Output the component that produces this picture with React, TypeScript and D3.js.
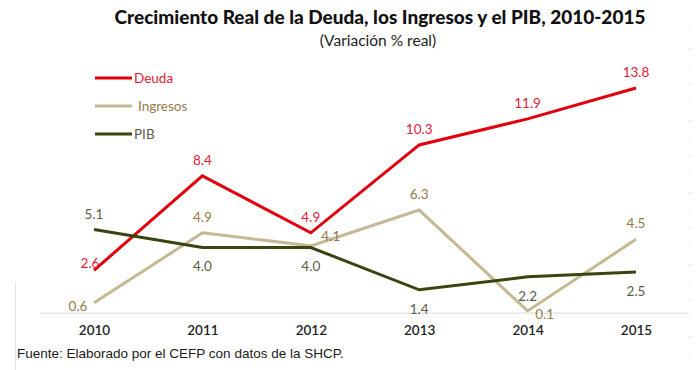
import React, { useRef, useEffect } from 'react';
import * as d3 from 'd3';

const years = ['2010', '2011', '2012', '2013', '2014', '2015'];
const deuda = [2.6, 8.4, 4.9, 10.3, 11.9, 13.8];
const ingresos = [0.6, 4.9, 4.1, 6.3, 0.1, 4.5];
const pib = [5.1, 4.0, 4.0, 1.4, 2.2, 2.5];

// where each value label sits relative to its point
const deudaLabelPos = ['left', 'above', 'above', 'above', 'above', 'above'];
const ingresosLabelPos = ['lowLeft', 'above', 'right', 'above', 'lowRight', 'above'];
const pibLabelPos = ['above', 'below', 'below', 'below', 'below', 'below'];

const App = () => {
  const svgRef = useRef<SVGSVGElement | null>(null);

  useEffect(() => {
    if (!svgRef.current) return;
    const svg = d3.select(svgRef.current);
    svg.selectAll('*').remove();

    const font = 'Lato, "Open Sans", sans-serif';

    const x = d3.scalePoint<string>().domain(years).range([94, 636]);
    const y = d3.scaleLinear().domain([0, 14]).range([312.6, 84.7]);

    // title
    svg.append('text')
      .attr('x', 380).attr('y', 24)
      .attr('text-anchor', 'middle')
      .style('font-family', font)
      .style('font-weight', 900)
      .style('font-size', '19px')
      .attr('fill', '#111')
      .text('Crecimiento Real de la Deuda, los Ingresos y el PIB, 2010-2015');

    svg.append('text')
      .attr('x', 378).attr('y', 46)
      .attr('text-anchor', 'middle')
      .style('font-family', font)
      .style('font-size', '15.5px')
      .attr('fill', '#222')
      .text('(Variación % real)');

    // frame hints
    svg.append('line')
      .attr('x1', 15.5).attr('x2', 15.5).attr('y1', 282).attr('y2', 370)
      .attr('stroke', '#e4e4e4');
    svg.append('line')
      .attr('x1', 689.5).attr('x2', 689.5).attr('y1', 30).attr('y2', 370)
      .attr('stroke', '#cfcfcf').attr('stroke-dasharray', '1,17');

    // axis
    const axis = svg.append('g')
      .attr('transform', `translate(0,${y(0)})`)
      .call(d3.axisBottom(x).tickSize(0).tickPadding(13));
    axis.select('.domain').remove();
    axis.append('line')
      .attr('x1', 40).attr('x2', 688).attr('y1', 0.5).attr('y2', 0.5)
      .attr('stroke', '#d9d9d9');
    axis.selectAll('.tick text')
      .style('font-family', font)
      .style('font-size', '13.5px')
      .style('font-weight', 600)
      .attr('fill', '#222');

    const series = [
      { name: 'Deuda', values: deuda, color: '#e2000e', labelColor: '#e0203a', pos: deudaLabelPos },
      { name: 'Ingresos', values: ingresos, color: '#c5b995', labelColor: '#957c4a', pos: ingresosLabelPos },
      { name: 'PIB', values: pib, color: '#384511', labelColor: '#5c5c44', pos: pibLabelPos },
    ];

    const line = d3.line<number>()
      .x((_, i) => x(years[i]) as number)
      .y(d => y(d));

    const offsets: Record<string, [number, number, string]> = {
      above: [0, -11, 'middle'],
      below: [0, 24, 'middle'],
      left: [-4, -2, 'middle'],
      lowLeft: [-16, 8, 'middle'],
      right: [20, -5, 'middle'],
      lowRight: [17, 8, 'middle'],
    };

    series.forEach(s => {
      svg.append('path')
        .datum(s.values)
        .attr('fill', 'none')
        .attr('stroke', s.color)
        .attr('stroke-width', 3)
        .attr('stroke-linejoin', 'miter')
        .attr('d', line);
    });

    series.forEach(s => {
      svg.append('g')
        .selectAll('text')
        .data(s.values)
        .enter()
        .append('text')
        .attr('x', (d, i) => (x(years[i]) as number) + offsets[s.pos[i]][0])
        .attr('y', (d, i) => y(d) + offsets[s.pos[i]][1])
        .attr('text-anchor', (d, i) => offsets[s.pos[i]][2])
        .style('font-family', font)
        .style('font-size', '13.5px')
        .attr('fill', s.labelColor)
        .text(d => d.toFixed(1));
    });

    // legend
    const legend = svg.append('g').attr('transform', 'translate(95,78)');
    series.forEach((s, i) => {
      legend.append('line')
        .attr('x1', 0).attr('x2', 37)
        .attr('y1', i * 28).attr('y2', i * 28)
        .attr('stroke', s.color)
        .attr('stroke-width', 3);
      legend.append('text')
        .attr('x', s.name === 'Ingresos' ? 43 : 39)
        .attr('y', i * 28 + 5)
        .style('font-family', font)
        .style('font-size', '13.5px')
        .attr('fill', s.labelColor)
        .text(s.name);
    });

    // source
    svg.append('text')
      .attr('x', 17).attr('y', 358)
      .style('font-family', '"Liberation Sans", Arial, sans-serif')
      .style('font-size', '13.5px')
      .attr('fill', '#1a1a1a')
      .text('Fuente: Elaborado por el CEFP con datos de la SHCP.');
  }, []);

  return (
    <svg
      ref={svgRef}
      width={700}
      height={370}
      style={{ position: 'absolute', left: 0, top: 0, background: '#fff' }}
    />
  );
};

export default App;
